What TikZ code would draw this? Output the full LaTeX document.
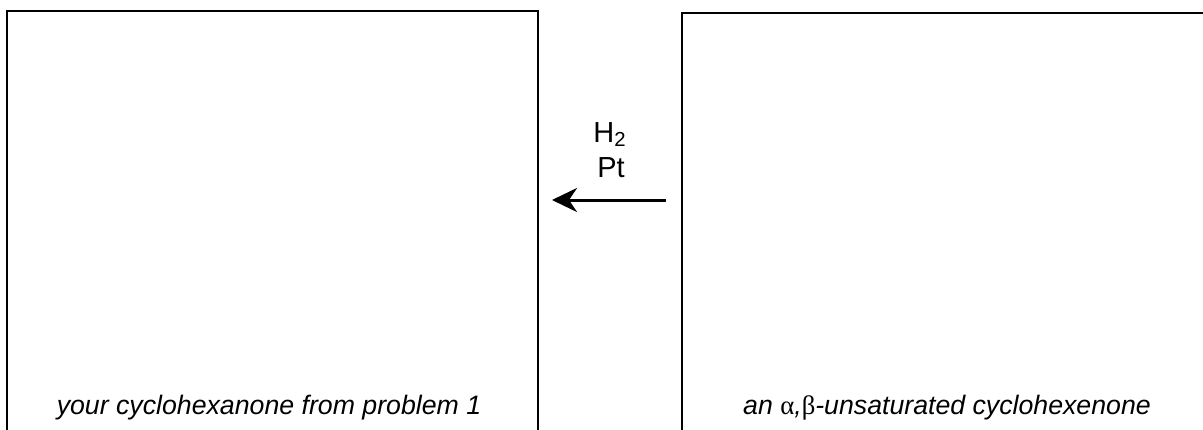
\documentclass[tikz,border=0pt]{standalone}
\usepackage{fontspec}
\setmainfont{Liberation Sans}
\newfontfamily\greekfont{Liberation Serif}
\usetikzlibrary{arrows.meta}
\begin{document}
\begin{tikzpicture}[
  x=0.5pt,
  y=-0.5pt,
  line join=miter,
  box/.style={line width=1pt},
  rxn/.style={
    line width=1.5pt,
    -{Stealth[length=12.5pt,width=12pt,inset=4pt]}
  },
  caption/.style={
    font=\fontsize{13.35}{16}\selectfont\itshape,
    anchor=base,
    inner sep=0pt
  },
  reagent/.style={
    font=\fontsize{14.5}{17}\selectfont,
    anchor=base,
    inner sep=0pt
  }
]
  \def\W{1203}
  \def\Hgt{429}

  \useasboundingbox (0,0) rectangle (\W,\Hgt);
  \clip (0,0) rectangle (\W,\Hgt);

  % Product box (left)
  \draw[box] (6.5,10.5) rectangle (538,440);

  % Starting material box (right)
  \draw[box] (681.5,12.5) rectangle (1215,440);

  % Reaction arrow
  \coordinate (start) at (666,200);
  \coordinate (stop)  at (552,200);
  \draw[rxn] (start) -- (stop);

  % Reagents
  \node[reagent] (h2) at (610,142) {H\textsubscript{2}};
  \node[reagent] (pt) at (611,177) {Pt};

  % Captions
  \node[caption] (product) at (269,414)
    {your cyclohexanone from problem 1};
  \node[caption] (enone) at (947,414)
    {an {\greekfont\upshape α},{\greekfont\upshape β}-unsaturated cyclohexenone};
\end{tikzpicture}
\end{document}
